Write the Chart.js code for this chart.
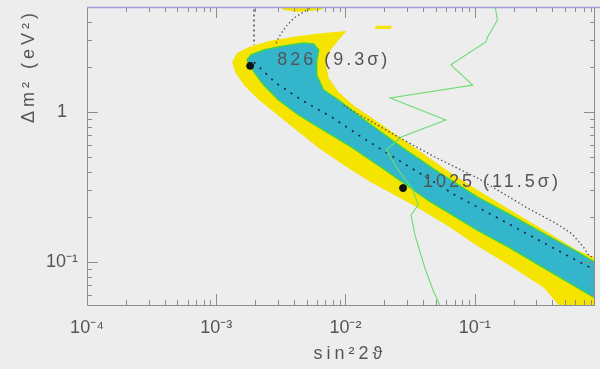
<!DOCTYPE html>
<html>
<head>
<meta charset="utf-8">
<script src="https://cdn.jsdelivr.net/npm/chart.js@4/dist/chart.umd.min.js"></script>
<style>
  html, body { margin: 0; padding: 0; background: #ededee; }
  canvas { display: block; }
</style>
</head>
<body>
<canvas id="plot" width="600" height="369"></canvas>
<script>
// outer allowed region (yellow)
const outerX = [1.33e-3, 1.45e-3, 1.79e-3, 2.56e-3, 4.35e-3, 6.77e-3, 1.02e-2, 8.84e-3, 7.67e-3, 7.02e-3,
                7.40e-3, 8.84e-3, 1.15e-2, 2.03e-2, 3.65e-2, 6.53e-2, 0.105, 0.189, 0.345, 0.620,
                0.86, 0.86, 0.459, 0.345, 0.189, 0.105, 6.20e-2, 3.65e-2, 2.56e-2, 1.56e-2,
                1.05e-2, 6.20e-3, 4.35e-3, 3.05e-3, 2.14e-3, 1.64e-3, 1.40e-3];
const outerY = [2.15, 2.47, 2.71, 2.97, 3.21, 3.36, 3.47, 3.02, 2.59, 2.15,
                1.69, 1.36, 1.11, 0.794, 0.558, 0.392, 0.302, 0.222, 0.163, 0.120,
                0.107, 0.05, 0.05, 0.0671, 0.0941, 0.128, 0.174, 0.229, 0.271, 0.341,
                0.423, 0.575, 0.736, 0.940, 1.20, 1.51, 1.85];

// small outer islands near the top
const islandAX = [2.95e-3, 7.40e-3, 6.42e-3, 4.35e-3, 3.33e-3];
const islandAY = [5.2, 5.2, 4.79, 4.64, 4.79];
const islandBX = [1.70e-2, 2.26e-2, 2.26e-2, 1.70e-2];
const islandBY = [3.75, 3.75, 3.58, 3.58];

// inner allowed region (cyan)
const innerX = [1.73e-3, 1.86e-3, 2.34e-3, 3.33e-3, 4.75e-3, 5.67e-3, 6.20e-3, 5.98e-3, 5.98e-3, 6.77e-3,
                8.84e-3, 1.50e-2, 2.70e-2, 4.92e-2, 0.105, 0.189, 0.345, 0.620, 0.86, 0.86,
                0.345, 0.189, 0.105, 4.35e-2, 3.22e-2, 2.03e-2, 1.11e-2, 6.20e-3, 4.35e-3, 3.05e-3,
                2.34e-3, 1.96e-3];
const innerY = [2.22, 2.40, 2.59, 2.75, 2.88, 2.84, 2.59, 2.15, 1.76, 1.40,
                1.20, 0.845, 0.585, 0.411, 0.271, 0.206, 0.154, 0.117, 0.099, 0.0575,
                0.0912, 0.124, 0.163, 0.259, 0.311, 0.411, 0.585, 0.794, 0.955, 1.20,
                1.51, 1.85];

// best-fit line through the band (dotted)
const centerX = [1.96e-3, 2.89e-3, 4.59e-3, 7.80e-3, 1.26e-2, 2.56e-2, 7.02e-2, 0.189, 0.435, 0.86];
const centerY = [2.15, 1.56, 1.20, 0.926, 0.702, 0.479, 0.280, 0.177, 0.120, 0.088];

// grey dotted contour
const arcX = [5.98e-3, 4.75e-3, 3.98e-3, 3.45e-3, 3.05e-3, 2.89e-3];
const arcY = [5.2, 4.64, 4.23, 3.69, 3.16, 2.84];
const edgeX = [9.66e-3, 1.11e-2, 2.56e-2, 4.92e-2, 0.105, 0.256, 0.435, 0.567, 0.702, 0.767, 0.86];
const edgeY = [1.11, 1.03, 0.681, 0.501, 0.363, 0.229, 0.179, 0.154, 0.124, 0.110, 0.106];
const wallX = [1.96e-3, 1.96e-3];
const wallY = [5.2, 2.80];

// green limit curve
const limitX = [0.143, 0.150, 0.126, 0.122, 6.53e-2, 9.66e-2, 2.22e-2, 5.98e-2, 2.70e-2, 2.07e-2,
                2.56e-2, 3.33e-2, 3.65e-2, 3.22e-2, 3.45e-2, 4.12e-2, 4.75e-2, 5.47e-2];
const limitY = [5.2, 4.11, 3.16, 2.93, 2.06, 1.51, 1.24, 0.885, 0.681, 0.558,
                0.411, 0.302, 0.240, 0.206, 0.151, 0.0912, 0.0651, 0.05];

// marked points
const pointX = [1.83e-3, 2.79e-2];
const pointY = [2.03, 0.311];
const pointLabels = ['826 (9.3σ)', '1025 (11.5σ)'];

// axes
const xTickValues = [1e-4, 1e-3, 1e-2, 1e-1];
const xTickLabels = ['10⁻⁴', '10⁻³', '10⁻²', '10⁻¹'];
const yTickValues = [0.1, 1];
const yTickLabels = ['10⁻¹', '1'];

const FONT = '"Liberation Sans", Arial, Helvetica, sans-serif';
const TEXT = '#555';

function pts(xs, ys, close) {
  const out = xs.map((x, i) => ({ x: x, y: ys[i] }));
  if (close) out.push(out[0]);
  return out;
}

function pickLabel(values, labels) {
  return v => {
    const i = values.findIndex(t => Math.abs(Math.log10(t) - Math.log10(v)) < 1e-6);
    return i < 0 ? '' : labels[i];
  };
}

const area = (data, color, border, order) => ({
  data: data, showLine: true, fill: 'shape', backgroundColor: color,
  borderColor: border || color, borderWidth: border ? 1.5 : 0, pointRadius: 0, order: order
});
const dotted = (data, color, width, dash, order) => ({
  data: data, showLine: true, fill: false, borderColor: color, borderWidth: width,
  borderDash: dash, pointRadius: 0, order: order
});

function logTicks(min, max) {
  const out = [];
  for (let d = Math.floor(Math.log10(min)); d <= Math.ceil(Math.log10(max)); d++) {
    for (let k = 1; k <= 9; k++) {
      const v = k * Math.pow(10, d);
      if (v >= min * 0.999 && v <= max * 1.001) out.push([v, k === 1]);
    }
  }
  return out;
}

const frame = {
  id: 'frame',
  afterDatasetsDraw(chart) {
    const { ctx, chartArea: a, scales: { x, y } } = chart;
    ctx.save();
    ctx.lineWidth = 1;
    ctx.strokeStyle = '#8c8c8c';
    ctx.beginPath();
    logTicks(x.min, x.max).forEach(([v, major]) => {
      const px = Math.round(x.getPixelForValue(v)) + 0.5;
      const len = major ? 11 : 5;
      ctx.moveTo(px, a.bottom); ctx.lineTo(px, a.bottom - len);
      ctx.moveTo(px, a.top); ctx.lineTo(px, a.top + len);
    });
    logTicks(y.min, y.max).forEach(([v, major]) => {
      const py = Math.round(y.getPixelForValue(v)) + 0.5;
      const len = major ? 11 : 5;
      ctx.moveTo(a.left, py); ctx.lineTo(a.left + len, py);
      ctx.moveTo(a.right, py); ctx.lineTo(a.right - len, py);
    });
    ctx.moveTo(a.left + 0.5, a.top); ctx.lineTo(a.left + 0.5, a.bottom + 0.5);
    ctx.lineTo(a.right, a.bottom + 0.5);
    ctx.moveTo(a.right - 0.5, a.top); ctx.lineTo(a.right - 0.5, a.bottom);
    ctx.stroke();
    ctx.strokeStyle = '#a0a0dc';
    ctx.lineWidth = 1.5;
    ctx.beginPath();
    ctx.moveTo(a.left, a.top + 0.5); ctx.lineTo(chart.width, a.top + 0.5);
    ctx.stroke();
    ctx.restore();
  }
};

const notes = {
  id: 'notes',
  afterDraw(chart) {
    const { ctx, scales: { x, y } } = chart;
    const offsets = [[27, -6], [20, -6]];
    ctx.save();
    ctx.fillStyle = TEXT;
    ctx.letterSpacing = '3px';
    ctx.textBaseline = 'middle';
    ctx.textAlign = 'left';
    ctx.font = '18px ' + FONT;
    pointLabels.forEach((t, i) => {
      ctx.fillText(t, x.getPixelForValue(pointX[i]) + offsets[i][0],
                      y.getPixelForValue(pointY[i]) + offsets[i][1]);
    });
    ctx.letterSpacing = '4px';
    ctx.textAlign = 'center';
    ctx.fillText('sin²2ϑ', 350, 354);
    ctx.translate(29, 66);
    ctx.rotate(-Math.PI / 2);
    ctx.fillText('Δm² (eV²)', 0, 0);
    ctx.restore();
  }
};

new Chart(document.getElementById('plot'), {
  type: 'scatter',
  data: {
    datasets: [
      { data: pts(pointX, pointY), pointRadius: 3.5, pointBackgroundColor: '#111',
        pointBorderColor: '#111', order: 0 },
      dotted(pts(limitX, limitY), '#6ddc6d', 1.1, [], 1),
      dotted(pts(centerX, centerY), '#1d2030', 1.6, [2, 6], 2),
      dotted(pts(arcX, arcY), '#555', 1.3, [1.5, 2.5], 3),
      dotted(pts(edgeX, edgeY), '#555', 1.3, [1.5, 2.5], 3),
      dotted(pts(wallX, wallY), '#555', 1.6, [2, 3], 3),
      area(pts(innerX, innerY, true), '#33b6cc', '#3ccf5a', 5),
      area(pts(islandAX, islandAY), '#f4e400', null, 6),
      area(pts(islandBX, islandBY), '#f4e400', null, 6),
      area(pts(outerX, outerY, true), '#f4e400', null, 7)
    ]
  },
  options: {
    responsive: false,
    animation: false,
    layout: { padding: { top: 7, right: 2, left: 0, bottom: 0 } },
    plugins: { legend: { display: false }, tooltip: { enabled: false } },
    scales: {
      x: {
        type: 'logarithmic', min: 1e-4, max: 0.853,
        afterFit: s => { s.height = 64; s.paddingLeft = 0; s.paddingRight = 0; },
        grid: { display: false, drawTicks: false },
        border: { display: false },
        ticks: { autoSkip: false, maxRotation: 0, padding: 12, color: TEXT,
                 font: { family: FONT, size: 18 }, callback: pickLabel(xTickValues, xTickLabels) }
      },
      y: {
        type: 'logarithmic', min: 0.0517, max: 5.01,
        afterFit: s => { s.width = 87; s.paddingTop = 0; s.paddingBottom = 0; },
        grid: { display: false, drawTicks: false },
        border: { display: false },
        ticks: { autoSkip: false, crossAlign: 'center', padding: 9, color: TEXT,
                 font: { family: FONT, size: 18 }, callback: pickLabel(yTickValues, yTickLabels) }
      }
    }
  },
  plugins: [frame, notes]
});
</script>
</body>
</html>
